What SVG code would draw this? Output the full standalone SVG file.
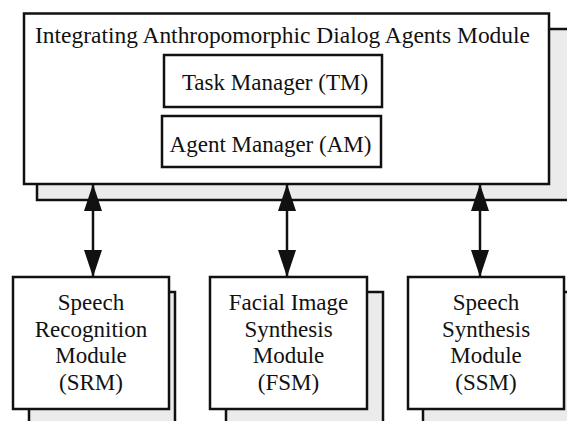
<svg xmlns="http://www.w3.org/2000/svg" width="567" height="421" viewBox="0 0 567 421">
<style>
.box{fill:#fff;stroke:#111;stroke-width:2.5}
.shadow{fill:#ebebeb;stroke:#111;stroke-width:2.5}
.t{font-family:"Liberation Serif","Times New Roman",serif;font-size:23px;fill:#111}
.c{text-anchor:middle}
.conn{stroke:#111;stroke-width:2.5;fill:none;marker-start:url(#ah);marker-end:url(#ah)}
</style>
<defs>
<marker id="ah" markerUnits="userSpaceOnUse" markerWidth="27" markerHeight="18" refX="27" refY="9" orient="auto-start-reverse" viewBox="0 0 27 18">
<path d="M0,0 L27,9 L0,18 z" fill="#111"/>
</marker>
</defs>
<g id="main">
<rect class="shadow" x="37" y="29" width="545" height="171"/>
<rect class="box" x="24" y="13.5" width="525" height="170.5"/>
<text class="t" x="35" y="43" textLength="495" lengthAdjust="spacingAndGlyphs">Integrating Anthropomorphic Dialog Agents Module</text>
</g>
<g id="tm">
<rect class="box" x="164" y="55" width="218" height="52"/>
<text class="t c" x="275" y="90">Task Manager (TM)</text>
</g>
<g id="am">
<rect class="box" x="162" y="116" width="219" height="51"/>
<text class="t c" x="270.5" y="152">Agent Manager (AM)</text>
</g>
<g id="srm">
<rect class="shadow" x="29" y="292" width="146" height="140"/>
<rect class="box" x="13" y="277" width="156" height="132"/>
<text class="t c" x="91" y="310">Speech</text>
<text class="t c" x="91" y="337">Recognition</text>
<text class="t c" x="91" y="363">Module</text>
<text class="t c" x="91" y="390">(SRM)</text>
</g>
<g id="fsm">
<rect class="shadow" x="226" y="292" width="157" height="140"/>
<rect class="box" x="210" y="277" width="157" height="132"/>
<text class="t c" x="288.5" y="310">Facial Image</text>
<text class="t c" x="288.5" y="337">Synthesis</text>
<text class="t c" x="288.5" y="363">Module</text>
<text class="t c" x="288.5" y="390">(FSM)</text>
</g>
<g id="ssm">
<rect class="shadow" x="423" y="292" width="160" height="140"/>
<rect class="box" x="408" y="277" width="156" height="132"/>
<text class="t c" x="486" y="310">Speech</text>
<text class="t c" x="486" y="337">Synthesis</text>
<text class="t c" x="486" y="363">Module</text>
<text class="t c" x="486" y="390">(SSM)</text>
</g>
<g id="connectors">
<line class="conn" x1="93" y1="184" x2="93" y2="277"/>
<line class="conn" x1="287" y1="184" x2="287" y2="277"/>
<line class="conn" x1="480" y1="184" x2="480" y2="277"/>
</g>
</svg>
